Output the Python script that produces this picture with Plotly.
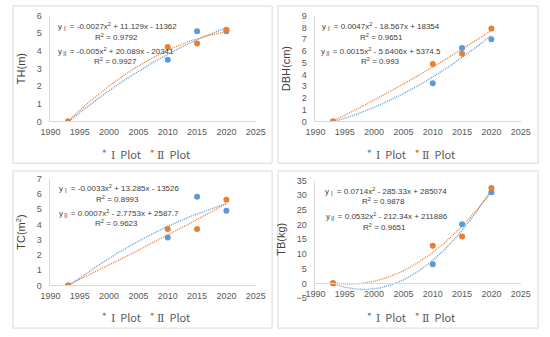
import numpy as np
import plotly.graph_objects as go

W, H = 550, 337

years = [1993, 2010, 2015, 2020]

th_1 = [0, 3.5, 5.12, 5.12]
th_2 = [0, 4.22, 4.42, 5.2]
dbh_1 = [0, 3.25, 6.25, 7.0]
dbh_2 = [0, 4.88, 5.75, 7.9]
tc_1 = [0, 3.15, 5.82, 4.9]
tc_2 = [0, 3.7, 3.7, 5.62]
tb_1 = [0, 6.5, 20.1, 31.0]
tb_2 = [0, 12.8, 16.0, 32.5]

y_titles = ["TH(m)", "DBH(cm)", "TC(m<sup>2</sup>)", "TB(kg)"]
y_ranges = [(0, 6), (0, 9), (0, 7), (-5, 35)]
y_dticks = [1, 1, 1, 5]
eq_1 = ["-0.0027x<sup>2</sup> + 11.129x - 11362", "0.0047x<sup>2</sup> - 18.567x + 18354",
        "-0.0033x<sup>2</sup> + 13.285x - 13526", "0.0714x<sup>2</sup> - 285.33x + 285074"]
r2_1 = ["0.9792", "0.9651", "0.8993", "0.9878"]
eq_2 = ["-0.005x<sup>2</sup> + 20.089x - 20341", "0.0015x<sup>2</sup> - 5.6406x + 5374.5",
        "0.0007x<sup>2</sup> - 2.7753x + 2587.7", "0.0532x<sup>2</sup> - 212.34x + 211886"]
r2_2 = ["0.9927", "0.993", "0.9623", "0.9651"]
legend_numerals = ["Ⅰ", "Ⅱ"]
legend_label = "Plot"

series = [(th_1, th_2), (dbh_1, dbh_2), (tc_1, tc_2), (tb_1, tb_2)]

BLUE = "#5B9BD5"
ORANGE = "#ED7D31"
FONT = "Liberation Sans, Noto Sans CJK SC, sans-serif"
CJK = "Noto Sans CJK SC, sans-serif"

# panel geometry in px
panels = [
    dict(box=(3, 272, 1, 163), px=(42, 255), py=(11, 120), leg=154,
         eqc=(70, 68, 68, 67), eqy=(22, 33, 48, 58)),
    dict(box=(278, 548, 1, 163), px=(317, 530), py=(11, 120), leg=154,
         eqc=(68.5, 68, 68, 67), eqy=(22, 33, 48, 58)),
    dict(box=(3, 272, 171, 333), px=(42, 255), py=(179, 289), leg=322,
         eqc=(71, 70, 71, 69), eqy=(189, 200, 215, 225)),
    dict(box=(278, 548, 171, 333), px=(317, 530), py=(181, 302), leg=322,
         eqc=(73, 70.5, 74.5, 72), eqy=(192, 202, 218, 229)),
]

def fx(p):
    return p / W

def fy(p):
    return 1 - p / H

fig = go.Figure()
shapes = []
annotations = []
layout = {}

xs = np.array(years, dtype=float)
xfine = np.linspace(1993, 2020, 200)

for i, (pn, (s1, s2)) in enumerate(zip(panels, series)):
    k = "" if i == 0 else str(i + 1)
    xa, ya = "x" + k, "y" + k
    for vals, col in [(s1, BLUE), (s2, ORANGE)]:
        c = np.polyfit(xs - 2000, np.array(vals, dtype=float), 2)
        yf = np.polyval(c, xfine - 2000)
        fig.add_trace(go.Scatter(x=xfine, y=yf, mode="lines", showlegend=False,
                                 line=dict(color=col, width=1.3, dash="1px,1px"),
                                 xaxis=xa, yaxis=ya, hoverinfo="skip"))
    for vals, col, num in [(s1, BLUE, legend_numerals[0]), (s2, ORANGE, legend_numerals[1])]:
        fig.add_trace(go.Scatter(x=years, y=vals, mode="markers", name=num + " " + legend_label,
                                 marker=dict(color=col, size=6), xaxis=xa, yaxis=ya,
                                 showlegend=False))
    x0, x1 = pn["px"]
    yt, yb = pn["py"]
    ydom = [fy(yb), fy(yt)]
    lo, hi = y_ranges[i]
    xaxis = dict(domain=[fx(x0), fx(x1)], range=[1990, 2025], dtick=5, showgrid=False,
                 zeroline=False, showline=True, linecolor="#d9d9d9", linewidth=1,
                 ticks="outside", ticklen=2, tickcolor="rgba(0,0,0,0)",
                 tickfont=dict(size=9, color="#595959", family=FONT))
    if lo < 0:
        xaxis["anchor"] = "free"
        xaxis["position"] = ydom[0] + (0 - lo) / (hi - lo) * (ydom[1] - ydom[0])
    else:
        xaxis["anchor"] = ya
    layout["xaxis" + k] = xaxis
    layout["yaxis" + k] = dict(domain=ydom, range=[lo, hi], dtick=y_dticks[i], anchor=xa,
                               showgrid=False, zeroline=False, showline=True,
                               linecolor="#d9d9d9", linewidth=1, ticks="outside",
                               ticklen=6, tickcolor="rgba(0,0,0,0)",
                               tickfont=dict(size=9, color="#595959", family=FONT),
                               title=dict(text=y_titles[i], standoff=8,
                                          font=dict(size=11, color="#404040", family=FONT)))
    b = pn["box"]
    shapes.append(dict(type="rect", xref="paper", yref="paper", x0=fx(b[0]), x1=fx(b[1]),
                       y0=fy(b[3]), y1=fy(b[2]), line=dict(color="#d9d9d9", width=1)))
    # legend (drawn as text)
    cx = (x0 + x1) / 2
    ly = pn["leg"]
    for dx_dot, dx_txt, col, num in [(-50.5, -28, BLUE, legend_numerals[0]),
                                     (-1.5, 21.5, ORANGE, legend_numerals[1])]:
        annotations.append(dict(xref="paper", yref="paper", x=fx(cx + dx_dot), y=fy(ly - 4),
                                xanchor="center", yanchor="middle", text="●", showarrow=False,
                                font=dict(size=7, color=col, family=FONT)))
        label = ('<span style="font-family:\'DejaVu Serif\', \'Noto Sans CJK SC\'">'
                 + num + "</span>\u00a0\u00a0" + legend_label)
        annotations.append(dict(xref="paper", yref="paper", x=fx(cx + dx_txt), y=fy(ly),
                                xanchor="center", yanchor="middle", text=label, showarrow=False,
                                font=dict(size=11, color="#595959", family=CJK)))
    e = pn["eqy"]
    c4 = pn["eqc"]
    tfont = dict(size=8, color="#404040", family=FONT)
    texts = ["y<sub>Ⅰ</sub> = " + eq_1[i], "R<sup>2</sup> = " + r2_1[i],
             "y<sub>Ⅱ</sub> = " + eq_2[i], "R<sup>2</sup> = " + r2_2[i]]
    for t, yy, cc in zip(texts, e, c4):
        annotations.append(dict(xref="paper", yref="paper", x=fx(x0 + cc), y=fy(yy),
                                xanchor="center", yanchor="middle", text=t,
                                showarrow=False, font=tfont))

fig.update_layout(width=W, height=H, margin=dict(l=0, r=0, t=0, b=0),
                  paper_bgcolor="white", plot_bgcolor="white", showlegend=False,
                  shapes=shapes, annotations=annotations, **layout)

fig.write_html("out.html", config={"displayModeBar": False},
               post_script="document.body.style.margin='0px';")
